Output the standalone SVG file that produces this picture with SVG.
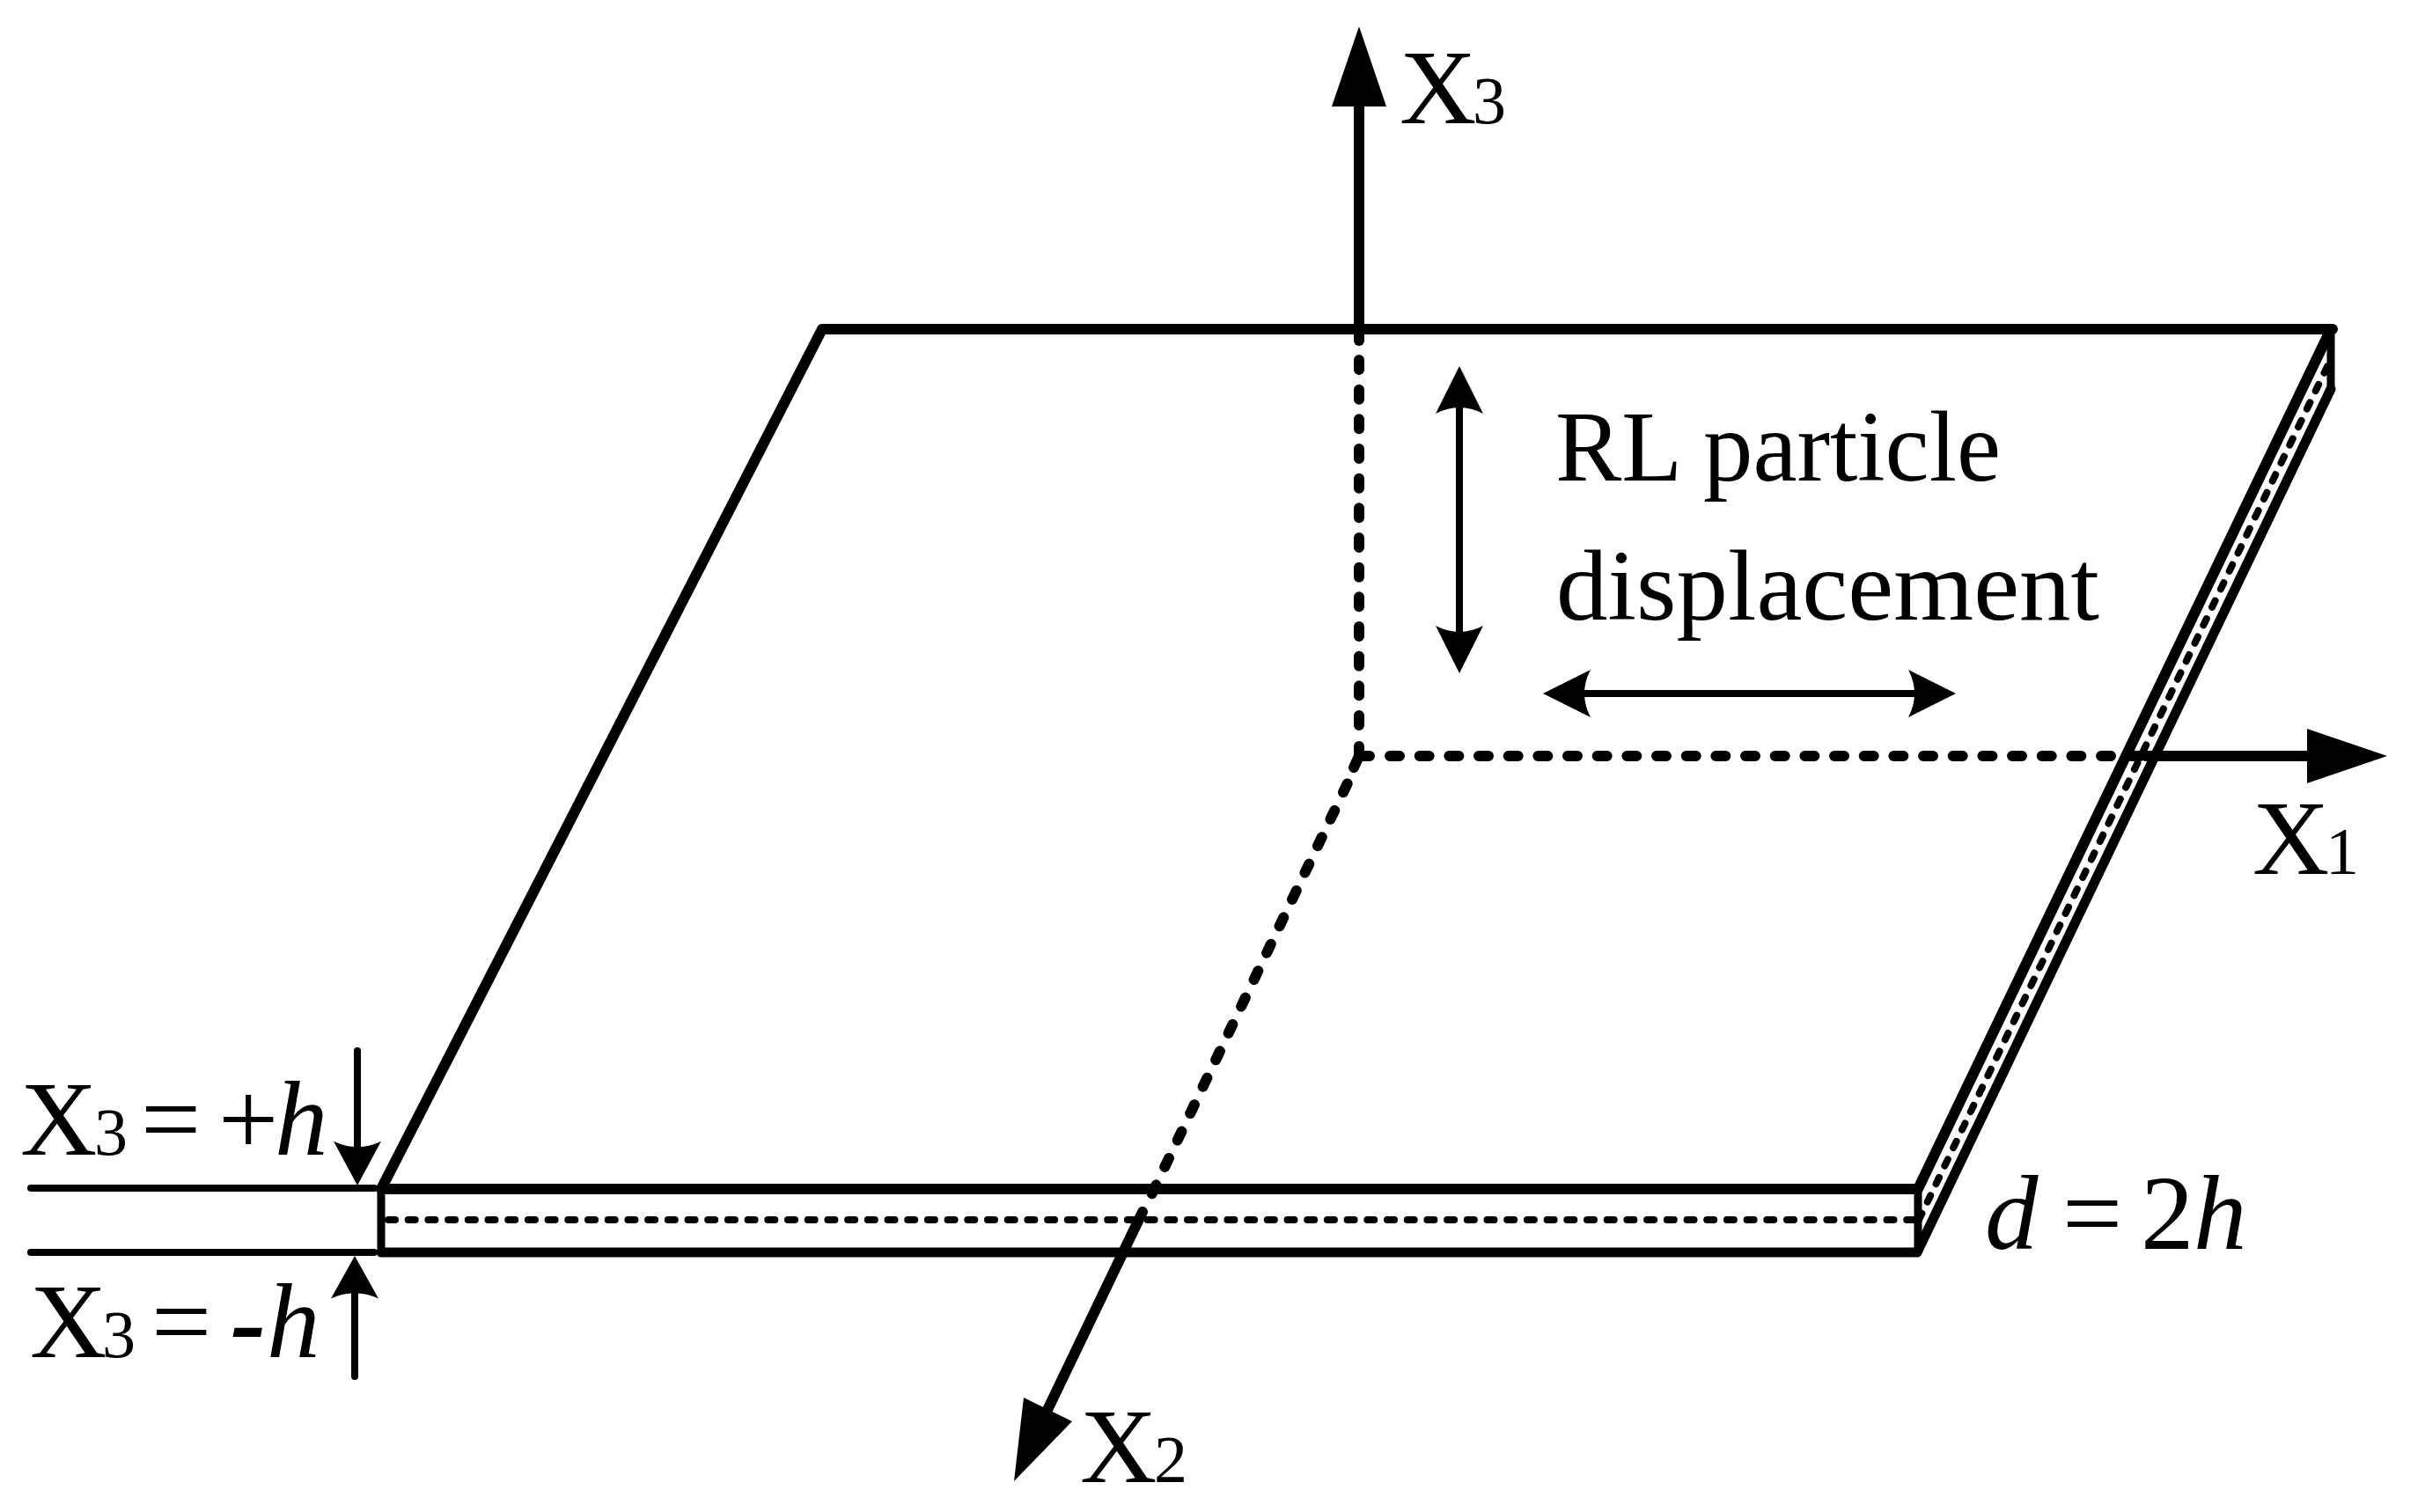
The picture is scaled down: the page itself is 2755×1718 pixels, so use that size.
<svg xmlns="http://www.w3.org/2000/svg" xmlns:xlink="http://www.w3.org/1999/xlink" width="2755" height="1718" viewBox="0 0 2755 1718">
<style>
.solid{fill:none;stroke:#000;stroke-linecap:round;stroke-linejoin:round}
.axis{stroke-width:12}
.edge{stroke-width:12}
.thin{stroke-width:8}
.axdash{fill:none;stroke:#000;stroke-width:12;stroke-linecap:round;stroke-dasharray:11 22.67}
.middash{fill:none;stroke:#000;stroke-width:8;stroke-linecap:round;stroke-dasharray:8 14.7}
text{font-family:"Liberation Serif","Times New Roman",serif;fill:#000}
.main{font-size:121px}
.sub{font-size:76px}
.it{font-size:121px;font-style:italic}
.lab{font-size:114px}
</style>
<defs>
<path id="barb" d="M0 0L27 54Q0 40 -27 54Z"/>
</defs>
<rect width="2755" height="1718" fill="#fff"/>
<g id="plate">
<path class="middash" d="M441 1386H2175"/>
<path class="middash" d="M2180 1386L2648 408"/>
<path class="solid edge" d="M433 1351L934 374H2650"/>
<path class="solid edge" d="M433 1351H2179L2648 374"/>
<path class="solid edge" style="stroke-width:11" d="M433 1423H2178L2648 442"/>
<path class="solid" style="stroke-width:9" d="M433 1351V1423M2179 1351V1423M2648 374V442"/>
</g>
<g id="connectors">
<g id="axis-x3">
<path class="solid axis" d="M1544 110V387"/>
<path class="axdash" d="M1544 409V826"/>
<polygon points="1544,30 1575,121 1513,121"/>
</g>
<g id="origin"><path class="solid axis" d="M1544 848V859H1556M1544 859L1538 872"/></g>
<g id="axis-x1">
<path class="axdash" d="M1579 859H2442"/>
<path class="solid axis" d="M2438 859H2625"/>
<polygon points="2712,859 2621,828 2621,890"/>
</g>
<g id="axis-x2">
<path class="axdash" d="M1530.7 890.4L1308.7 1356.4"/>
<path class="solid axis" d="M1298 1377L1190 1602"/>
<polygon points="1152,1683 1163,1588 1218,1615"/>
</g>
<g id="particle-arrows">
<path class="solid thin" d="M1658 460V720"/>
<use xlink:href="#barb" href="#barb" transform="translate(1658,416)"/>
<use xlink:href="#barb" href="#barb" transform="translate(1658,765) rotate(180)"/>
<path class="solid thin" d="M1795 788H2180"/>
<use xlink:href="#barb" href="#barb" transform="translate(1753,788) rotate(-90)"/>
<use xlink:href="#barb" href="#barb" transform="translate(2222,788) rotate(90)"/>
</g>
<g id="thickness-marks">
<path class="solid thin" d="M35 1350H425M35 1423H425"/>
<path class="solid thin" d="M406 1194V1310"/>
<use xlink:href="#barb" href="#barb" transform="translate(406,1347) rotate(180) scale(1,.93)"/>
<path class="solid thin" d="M403 1463V1564"/>
<use xlink:href="#barb" href="#barb" transform="translate(403,1427) scale(1,.9)"/>
</g>
</g>
<g id="label-x3"><text y="140"><tspan class="main" x="1590">X</tspan><tspan class="sub" x="1673">3</tspan></text></g>
<g id="label-x1"><text y="993"><tspan class="main" x="2559">X</tspan><tspan class="sub" x="2642">1</tspan></text></g>
<g id="label-x2"><text y="1684"><tspan class="main" x="1227">X</tspan><tspan class="sub" x="1311">2</tspan></text></g>
<g id="label-plus"><text y="1312"><tspan class="main" x="23">X</tspan><tspan class="sub" x="107">3</tspan><tspan class="main" x="160">=</tspan><tspan class="main" x="248">+</tspan><tspan class="it" x="312">h</tspan></text></g>
<g id="label-minus"><text y="1542"><tspan class="main" x="34">X</tspan><tspan class="sub" x="116">3</tspan><tspan class="main" x="172">=</tspan><tspan class="it" x="262" font-weight="bold">-</tspan><tspan class="it" x="303">h</tspan></text></g>
<g id="label-d"><text y="1419"><tspan class="it" x="2255">d</tspan><tspan class="main" x="2343">=</tspan><tspan class="main" x="2432">2</tspan><tspan class="it" x="2492">h</tspan></text></g>
<g id="label-rl">
<text class="lab" x="1767" y="546" textLength="506" lengthAdjust="spacingAndGlyphs">RL particle</text>
<text class="lab" x="1768" y="704" textLength="617" lengthAdjust="spacingAndGlyphs">displacement</text>
</g>
</svg>
